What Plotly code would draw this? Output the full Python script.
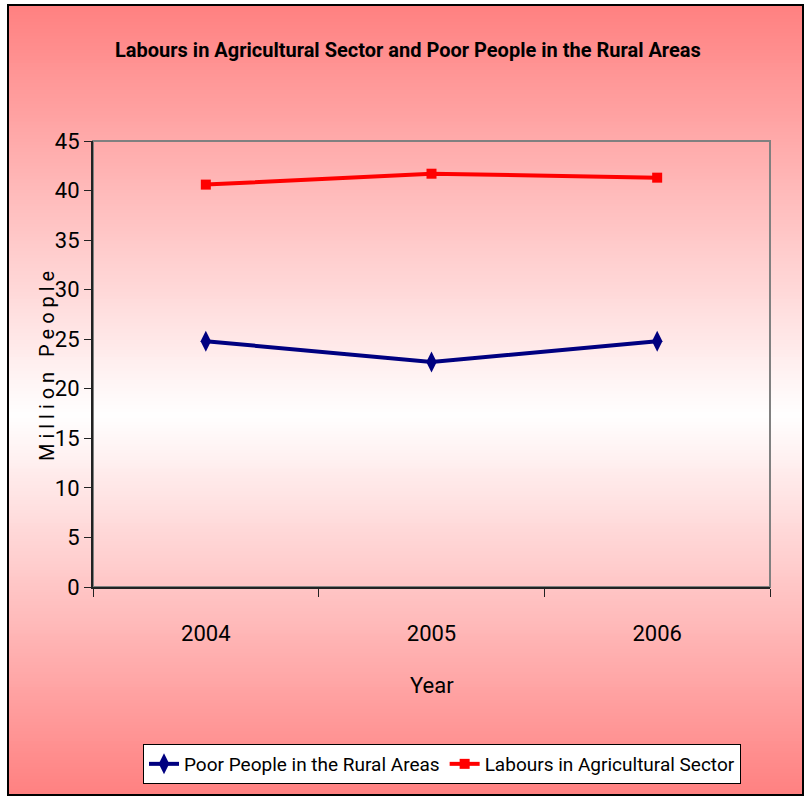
import plotly.graph_objects as go

years = ["2004", "2005", "2006"]
poor_people = [24.8, 22.7, 24.8]
labours = [40.6, 41.7, 41.3]
y_ticks = [0, 5, 10, 15, 20, 25, 30, 35, 40, 45]

W, H = 808, 796
FONT = "Roboto, sans-serif"

def px(x):
    return x / W

def py(y):
    return 1 - y / H

fig = go.Figure()
fig.add_trace(go.Scatter(
    x=years, y=poor_people, name="Poor People in the Rural Areas",
    mode="lines+markers",
    line=dict(color="#000080", width=4),
    marker=dict(symbol="diamond-tall", size=15, color="#000080"),
))
fig.add_trace(go.Scatter(
    x=years, y=labours, name="Labours in Agricultural Sector",
    mode="lines+markers",
    line=dict(color="#FF0000", width=4),
    marker=dict(symbol="square", size=10, color="#FF0000"),
))

# gradient background (red -> white -> red)
shapes = []
top, mid, bot = 5, 415, 795
n = 120
def col(t):
    v = int(round(128 + (255 - 128) * t))
    return f"rgb(255,{v},{v})"
ov = 1.5
for i in range(n):
    y0 = top + (mid - top) * i / n
    y1 = top + (mid - top) * (i + 1) / n + ov
    shapes.append(dict(type="rect", xref="paper", yref="paper", x0=px(8), x1=px(803),
                       y0=py(min(y1, bot)), y1=py(y0), fillcolor=col((i + 0.5) / n),
                       line=dict(width=0), layer="below"))
for i in range(n):
    y0 = mid + (bot - mid) * i / n
    y1 = mid + (bot - mid) * (i + 1) / n + ov
    shapes.append(dict(type="rect", xref="paper", yref="paper", x0=px(8), x1=px(803),
                       y0=py(min(y1, bot)), y1=py(y0), fillcolor=col(1 - (i + 0.5) / n),
                       line=dict(width=0), layer="below"))
# outer frame
shapes.append(dict(type="rect", xref="paper", yref="paper", x0=px(8), x1=px(803),
                   y0=py(795), y1=py(5), line=dict(color="black", width=2), layer="below"))
# plot area gray border
shapes.append(dict(type="rect", xref="paper", yref="paper", x0=px(93), x1=px(770),
                   y0=py(587), y1=py(141), line=dict(color="#808080", width=2), layer="below"))

fig.update_layout(
    width=W, height=H,
    margin=dict(l=0, r=0, t=0, b=0),
    paper_bgcolor="white",
    plot_bgcolor="rgba(0,0,0,0)",
    font=dict(family=FONT, color="black", size=20),
    shapes=shapes,
    showlegend=True,
    legend=dict(
        orientation="h", x=px(442), y=py(764), xanchor="center", yanchor="middle",
        bgcolor="white", bordercolor="black", borderwidth=1,
        font=dict(family=FONT, size=19), tracegroupgap=0,
    ),
    xaxis=dict(
        domain=[px(93), px(770)],
        type="category", range=[-0.5, 2.5],
        tickson="boundaries", ticks="outside", ticklen=8, tickcolor="#222",
        showline=True, linecolor="#222", linewidth=2,
        showgrid=False, zeroline=False,
        tickfont=dict(family=FONT, size=22),
        ticklabelstandoff=26,
        automargin=False,
    ),
    yaxis=dict(
        domain=[py(587), py(141)],
        range=[0, 45], tickvals=y_ticks,
        ticks="outside", ticklen=7, tickcolor="#222",
        showline=True, linecolor="#222", linewidth=2,
        showgrid=False, zeroline=False,
        tickfont=dict(family=FONT, size=22),
        automargin=False,
    ),
    annotations=[
        dict(text="<b>Labours in Agricultural Sector and Poor People in the Rural Areas</b>",
             xref="paper", yref="paper", x=px(408), y=py(50), xanchor="center", yanchor="middle",
             showarrow=False, font=dict(family=FONT, size=20, color="black")),
        dict(text="M i l l i o n   P e o p l e",
             xref="paper", yref="paper", x=px(47), y=py(366), xanchor="center", yanchor="middle",
             textangle=-90, showarrow=False, font=dict(family=FONT, size=20, color="black")),
        dict(text="Year",
             xref="paper", yref="paper", x=px(432), y=py(685), xanchor="center", yanchor="middle",
             showarrow=False, font=dict(family=FONT, size=22, color="black")),
    ],
)

fig.write_html("out.html", config={"displayModeBar": False},
               post_script="document.body.style.margin='0';document.body.style.overflow='hidden';")
